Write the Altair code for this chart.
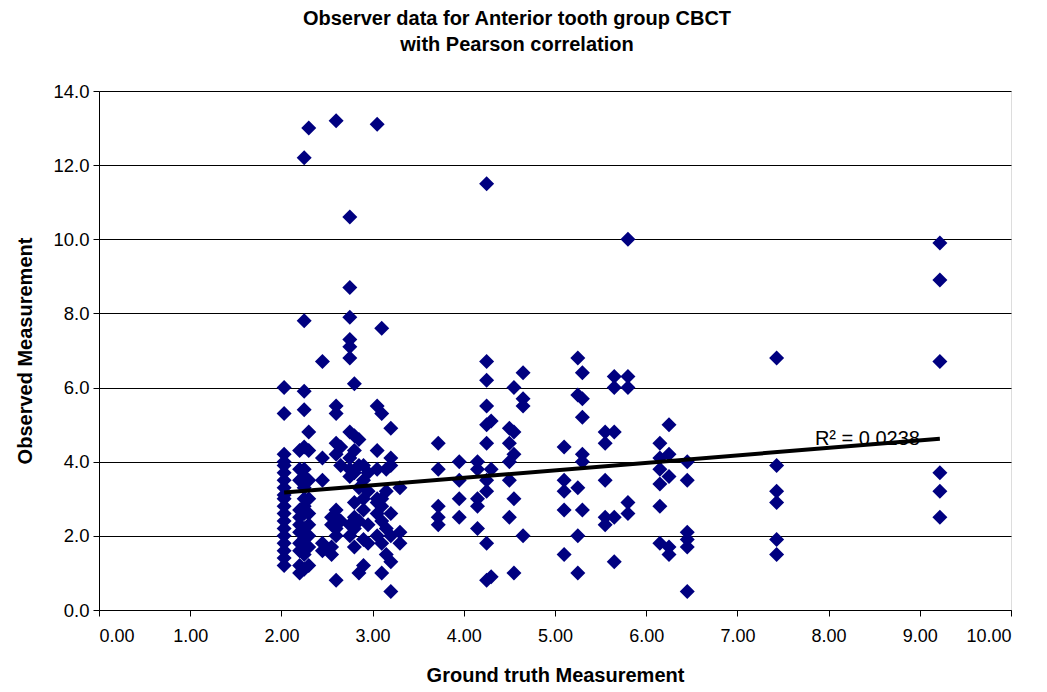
import altair as alt
import pandas as pd

# Ground-truth column positions and the observed values read at each
col_gt = [2.03, 2.20, 2.25, 2.30, 2.45, 2.55, 2.60, 2.65, 2.75, 2.80, 2.85, 2.90,
          2.95, 3.05, 3.10, 3.15, 3.20, 3.30,
          3.72, 3.95, 4.15, 4.25, 4.30, 4.50, 4.55, 4.65,
          5.10, 5.25, 5.30, 5.55, 5.65, 5.80,
          6.15, 6.25, 6.45, 7.43, 9.22]
col_obs = [
    [6.0, 5.3, 4.2, 4.0, 3.9, 3.7, 3.5, 3.3, 3.1, 3.0, 2.8, 2.6, 2.4, 2.2, 2.0, 1.8, 1.6, 1.4, 1.2],
    [4.3, 3.8, 3.5, 2.7, 2.5, 2.3, 2.1, 1.8, 1.6, 1.2, 1.0],
    [12.2, 7.8, 5.9, 5.4, 4.4, 3.8, 3.6, 3.3, 3.0, 2.8, 2.6, 2.2, 1.9, 1.5, 1.1],
    [13.0, 4.8, 4.3, 3.5, 3.0, 2.6, 2.3, 2.0, 1.7, 1.2],
    [6.7, 4.1, 3.5, 1.8, 1.6],
    [2.5, 2.3, 1.7, 1.5],
    [13.2, 5.5, 5.3, 4.5, 4.2, 2.7, 2.5, 2.2, 2.0, 0.8],
    [4.4, 3.9, 2.4],
    [10.6, 8.7, 7.9, 7.3, 7.1, 6.8, 4.8, 4.1, 3.8, 3.6, 2.3, 2.0],
    [6.1, 4.7, 4.3, 3.7, 2.9, 2.5, 2.2, 1.7],
    [4.6, 3.9, 3.3, 2.4, 1.0],
    [3.9, 3.5, 3.0, 2.7, 1.9, 1.2],
    [3.7, 3.2, 2.3, 1.8],
    [13.1, 5.5, 4.3, 3.8, 3.0, 2.9, 2.6, 2.0],
    [7.6, 5.3, 3.0, 2.8, 2.4, 1.8, 1.0],
    [3.8, 3.2, 2.2, 1.5],
    [4.9, 4.1, 3.9, 2.6, 2.0, 1.3, 0.5],
    [3.3, 2.1, 1.8],
    [4.5, 3.8, 2.8, 2.5, 2.3],
    [4.0, 3.5, 3.0, 2.5],
    [4.0, 3.8, 3.0, 2.8, 2.2],
    [11.5, 6.7, 6.2, 5.5, 5.0, 4.5, 3.5, 3.2, 1.8, 0.8],
    [5.1, 3.8, 0.9],
    [4.9, 4.5, 4.0, 3.5, 2.5],
    [6.0, 4.8, 4.2, 3.0, 1.0],
    [6.4, 5.7, 5.5, 2.0],
    [4.4, 3.5, 3.2, 2.7, 1.5],
    [6.8, 5.8, 3.3, 2.0, 1.0],
    [6.4, 5.7, 5.2, 4.2, 4.0, 2.7],
    [4.8, 4.5, 3.5, 2.5, 2.3],
    [6.3, 6.0, 4.8, 2.5, 1.3],
    [10.0, 6.3, 6.0, 2.9, 2.6],
    [4.5, 4.1, 3.8, 3.4, 2.8, 1.8],
    [5.0, 4.2, 3.6, 1.7, 1.5],
    [4.0, 3.5, 2.1, 1.9, 1.7, 0.5],
    [6.8, 3.9, 3.2, 2.9, 1.9, 1.5],
    [9.9, 8.9, 6.7, 3.7, 3.2, 2.5],
]

# Linear trend line endpoints
trend_x = [2.03, 9.22]
trend_y = [3.17, 4.62]
r2_label = ["R² = 0.0238"]
r2_x = [7.85]
r2_y = [4.6]

gt_vals, obs_vals = [], []
for g, obs in zip(col_gt, col_obs):
    for o in obs:
        gt_vals.append(g)
        obs_vals.append(o)
points = pd.DataFrame({"gt": gt_vals, "obs": obs_vals})
trend = pd.DataFrame({"gt": trend_x, "obs": trend_y})
label = pd.DataFrame({"gt": r2_x, "obs": r2_y, "t": r2_label})

FONT = "Liberation Sans"

xscale = alt.Scale(domain=[0, 10], nice=False, zero=True)
yscale = alt.Scale(domain=[0, 14], nice=False, zero=True)

xaxis = alt.Axis(values=list(range(0, 11)), format=".2f", grid=False,
                 title="Ground truth Measurement", titleFontWeight="bold",
                 titleFontSize=20, titleFont=FONT, labelFont=FONT, labelFontSize=18,
                 labelColor="black", titleColor="black", domainColor="black",
                 tickColor="black", tickSize=6, labelPadding=11, titlePadding=20)
yaxis = alt.Axis(values=list(range(0, 15, 2)), format=".1f", grid=True,
                 gridColor="black", gridWidth=1,
                 title="Observed Measurement", titleFontWeight="bold",
                 titleFontSize=20, titleFont=FONT, labelFont=FONT, labelFontSize=18.5,
                 labelColor="black", titleColor="black", domainColor="black",
                 tickColor="black", tickSize=6, labelPadding=4, titlePadding=17)

pts = alt.Chart(points).mark_point(shape="diamond", filled=True, size=225,
                                   color="#000080", opacity=1).encode(
    x=alt.X("gt:Q", scale=xscale, axis=xaxis),
    y=alt.Y("obs:Q", scale=yscale, axis=yaxis),
)

line = alt.Chart(trend).mark_line(color="black", strokeWidth=4).encode(
    x=alt.X("gt:Q", scale=xscale),
    y=alt.Y("obs:Q", scale=yscale),
)

txt = alt.Chart(label).mark_text(align="left", baseline="middle", font=FONT,
                                 fontSize=20, color="black").encode(
    x=alt.X("gt:Q", scale=xscale),
    y=alt.Y("obs:Q", scale=yscale),
    text="t:N",
)

chart = alt.layer(pts, line, txt).properties(
    width=912, height=519,
    title=alt.TitleParams(
        text=["Observer data for Anterior tooth group CBCT", "with Pearson correlation"],
        font=FONT, fontSize=20, fontWeight="bold", color="black",
        anchor="middle", dx=-38, offset=27, lineHeight=26,
    ),
    autosize=alt.AutoSizeParams(type="none"),
    padding={"left": 91, "top": 83, "right": 20, "bottom": 80},
).configure_view(
    fill="#C0C0C0", stroke="#808080", strokeWidth=2,
).configure(background="white")

chart.save("out.html", embed_options={"renderer": "svg", "actions": False})
